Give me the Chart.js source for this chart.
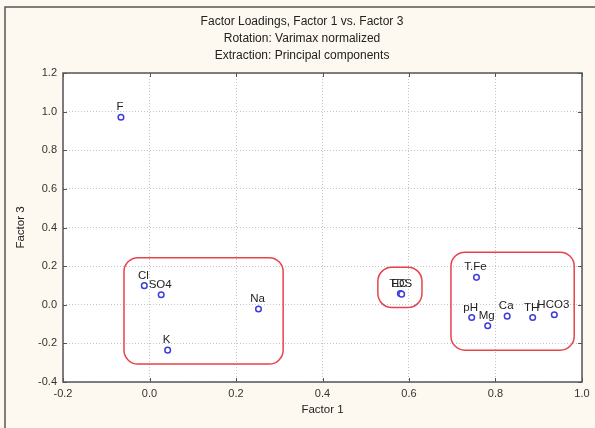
<!DOCTYPE html>
<html>
<head>
<meta charset="utf-8">
<title>Factor Loadings, Factor 1 vs. Factor 3</title>
<script src="https://cdn.jsdelivr.net/npm/chart.js@4.4.0/dist/chart.umd.min.js"></script>
<style>
  html, body { margin: 0; padding: 0; background: #fdf9f0; }
  #chart { display: block; }
</style>
</head>
<body>
<canvas id="chart" width="595" height="428"></canvas>
<script>
// Loadings
const elements = ['F', 'Cl', 'SO4', 'Na', 'K', 'EC', 'TDS', 'T.Fe', 'pH', 'Mg', 'Ca', 'TH', 'HCO3'];
const factor1 = [-0.066, -0.012, 0.027, 0.252, 0.042, 0.580, 0.583, 0.756, 0.745, 0.782, 0.827, 0.886, 0.936];
const factor3 = [0.971, 0.099, 0.052, -0.022, -0.235, 0.058, 0.055, 0.142, -0.066, -0.109, -0.059, -0.066, -0.052];

// Grouping boxes in data units: [xMin, xMax, yMin, yMax]
const highlightBoxes = [
  [-0.059, 0.309, -0.307, 0.244],
  [0.528, 0.630, -0.014, 0.194],
  [0.697, 0.982, -0.235, 0.272]
];

const titleLines = [
  'Factor Loadings, Factor 1 vs. Factor 3',
  'Rotation: Varimax normalized',
  'Extraction: Principal components'
];

const FONT = '"Liberation Sans", Arial, sans-serif';
const FRAME = '#555555';

function tickText(value) {
  if (Math.abs(value) < 1e-9) return '0.0';
  return value.toFixed(1);
}

// background, outer frame, white plot area
const backdrop = {
  id: 'backdrop',
  beforeDraw(chart) {
    const { ctx, chartArea: a } = chart;
    ctx.save();
    ctx.fillStyle = '#fdf9f0';
    ctx.fillRect(0, 0, chart.width, chart.height);
    ctx.strokeStyle = FRAME;
    ctx.lineWidth = 1.5;
    ctx.beginPath();
    ctx.moveTo(595, 7);
    ctx.lineTo(5, 7);
    ctx.lineTo(5, 428);
    ctx.stroke();
    ctx.fillStyle = '#ffffff';
    ctx.fillRect(a.left, a.top, a.right - a.left, a.bottom - a.top);
    ctx.restore();
  }
};

// plot frame and inward tick marks on all four sides
const plotFrame = {
  id: 'plotFrame',
  afterDraw(chart) {
    const { ctx, chartArea: a, scales } = chart;
    ctx.save();
    ctx.strokeStyle = FRAME;
    ctx.lineWidth = 1;
    ctx.beginPath();
    scales.x.ticks.forEach(t => {
      const px = Math.round(scales.x.getPixelForValue(t.value)) + 0.5;
      ctx.moveTo(px, a.bottom); ctx.lineTo(px, a.bottom - 4);
      ctx.moveTo(px, a.top); ctx.lineTo(px, a.top + 4);
    });
    scales.y.ticks.forEach(t => {
      const py = Math.round(scales.y.getPixelForValue(t.value)) + 0.5;
      ctx.moveTo(a.left, py); ctx.lineTo(a.left + 4, py);
      ctx.moveTo(a.right, py); ctx.lineTo(a.right - 4, py);
    });
    ctx.stroke();
    ctx.lineWidth = 1.5;
    ctx.strokeRect(a.left, a.top, a.right - a.left, a.bottom - a.top);
    ctx.restore();
  }
};

// red rounded grouping boxes
const groupBoxes = {
  id: 'groupBoxes',
  afterDatasetsDraw(chart) {
    const { ctx, scales } = chart;
    ctx.save();
    ctx.strokeStyle = '#e8424c';
    ctx.lineWidth = 1.5;
    highlightBoxes.forEach(b => {
      const x1 = scales.x.getPixelForValue(b[0]);
      const x2 = scales.x.getPixelForValue(b[1]);
      const y1 = scales.y.getPixelForValue(b[3]);
      const y2 = scales.y.getPixelForValue(b[2]);
      ctx.beginPath();
      ctx.roundRect(x1, y1, x2 - x1, y2 - y1, 14);
      ctx.stroke();
    });
    ctx.restore();
  }
};

// element names above each point
const pointLabels = {
  id: 'pointLabels',
  afterDatasetsDraw(chart) {
    const { ctx } = chart;
    const meta = chart.getDatasetMeta(0);
    ctx.save();
    ctx.font = '11.5px ' + FONT;
    ctx.fillStyle = '#222222';
    ctx.textAlign = 'center';
    ctx.textBaseline = 'middle';
    meta.data.forEach((pt, i) => {
      ctx.fillText(elements[i], pt.x - 1, pt.y - 10);
    });
    ctx.restore();
  }
};

new Chart(document.getElementById('chart'), {
  type: 'scatter',
  data: {
    datasets: [{
      label: 'Loadings',
      data: factor1.map((v, i) => ({ x: v, y: factor3[i] })),
      pointRadius: 2.8,
      pointBorderWidth: 1.5,
      pointBorderColor: '#3c3cdc',
      pointBackgroundColor: '#ffffff'
    }]
  },
  options: {
    responsive: false,
    animation: false,
    devicePixelRatio: 1,
    // left padding shifts the centred title to where the original sits
    layout: { padding: { left: 22, right: 13, top: 0, bottom: 0 } },
    plugins: {
      legend: { display: false },
      tooltip: { enabled: false },
      title: {
        display: true,
        text: titleLines,
        color: '#222222',
        font: { family: FONT, size: 12, weight: 'normal', lineHeight: 17 / 12 },
        padding: { top: 13.5, bottom: 8.5 }
      }
    },
    scales: {
      x: {
        type: 'linear',
        min: -0.2,
        max: 1.0,
        afterFit(scale) { scale.height = 46; },
        ticks: {
          stepSize: 0.2,
          padding: 5,
          color: '#333333',
          font: { family: FONT, size: 11 },
          callback: v => tickText(v)
        },
        grid: { color: '#c4c4c4', lineWidth: 1, drawTicks: false },
        border: { display: false, dash: [1, 2] },
        title: {
          display: true,
          text: 'Factor 1',
          color: '#222222',
          font: { family: FONT, size: 11.5 },
          padding: { top: 0, bottom: 11.5 }
        }
      },
      y: {
        type: 'linear',
        min: -0.4,
        max: 1.2,
        afterFit(scale) { scale.width = 41; },
        ticks: {
          stepSize: 0.2,
          padding: 6,
          color: '#333333',
          font: { family: FONT, size: 11 },
          callback: v => tickText(v)
        },
        grid: { color: '#c4c4c4', lineWidth: 1, drawTicks: false },
        border: { display: false, dash: [1, 2] },
        title: {
          display: true,
          text: 'Factor 3',
          color: '#222222',
          font: { family: FONT, size: 11.5 },
          padding: { top: -8.5, bottom: 0 }
        }
      }
    }
  },
  plugins: [backdrop, groupBoxes, pointLabels, plotFrame]
});
</script>
</body>
</html>
